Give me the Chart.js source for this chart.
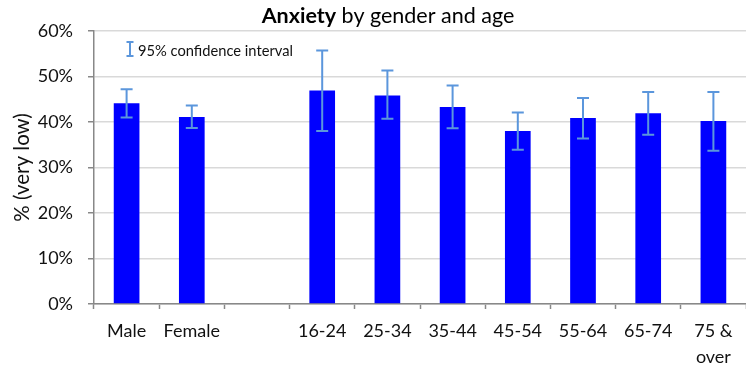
<!DOCTYPE html>
<html>
<head>
<meta charset="utf-8">
<script src="https://cdn.jsdelivr.net/npm/chart.js@4.4.1/dist/chart.umd.min.js"></script>
<style>
  html, body { margin: 0; padding: 0; background: #ffffff; }
  #wrap { width: 746px; height: 368px; }
</style>
</head>
<body>
<div id="wrap"><canvas id="chart" width="746" height="368"></canvas></div>
<script>
// Share of respondents with very low anxiety, by gender and by age band (%)
const categories = ['Male', 'Female', '', '16-24', '25-34', '35-44', '45-54', '55-64', '65-74', ['75 &', 'over']];
const values     = [44.1, 41.1, null, 46.9, 45.8, 43.3, 38.0, 40.9, 41.9, 40.2];
// 95% confidence interval bounds (%)
const ciLower    = [41.0, 38.7, null, 38.0, 40.7, 38.6, 33.9, 36.4, 37.2, 33.7];
const ciUpper    = [47.2, 43.6, null, 55.7, 51.3, 48.0, 42.1, 45.3, 46.6, 46.6];
const yTicks     = [0, 10, 20, 30, 40, 50, 60];

const FONT = 'Lato, "Open Sans", sans-serif';
const CI_COLOR = '#5B96DC';
const AXIS_COLOR = '#888888';
const GRID_COLOR = '#D9D9D9';

// Draws the confidence-interval whiskers on top of each bar
const errorBars = {
  id: 'errorBars',
  afterDatasetsDraw(chart) {
    const { ctx, scales: { x, y } } = chart;
    ctx.save();
    ctx.strokeStyle = CI_COLOR;
    ctx.lineWidth = 2;
    const cap = 6;
    values.forEach((v, i) => {
      if (v === null) return;
      const cx = x.getPixelForValue(i);
      const yTop = y.getPixelForValue(ciUpper[i]);
      const yBot = y.getPixelForValue(ciLower[i]);
      ctx.beginPath();
      ctx.moveTo(cx, yTop); ctx.lineTo(cx, yBot);
      ctx.moveTo(cx - cap, yTop); ctx.lineTo(cx + cap, yTop);
      ctx.moveTo(cx - cap, yBot); ctx.lineTo(cx + cap, yBot);
      ctx.stroke();
    });
    ctx.restore();
  }
};

// Title with a bold lead word, and the whisker key in the top-left corner
const decorations = {
  id: 'decorations',
  afterDraw(chart) {
    const { ctx, chartArea } = chart;
    ctx.save();
    // title
    const boldPart = 'Anxiety';
    const restPart = ' by gender and age';
    const titleSize = 21.5;
    ctx.textBaseline = 'alphabetic';
    ctx.fillStyle = '#000000';
    ctx.font = 'bold ' + titleSize + 'px ' + FONT;
    const wBold = ctx.measureText(boldPart).width;
    ctx.font = titleSize + 'px ' + FONT;
    const wRest = ctx.measureText(restPart).width;
    const startX = 388 - (wBold + wRest) / 2;
    ctx.font = 'bold ' + titleSize + 'px ' + FONT;
    ctx.fillText(boldPart, startX, 23);
    ctx.font = titleSize + 'px ' + FONT;
    ctx.fillText(restPart, startX + wBold, 23);

    // key
    const kx = chartArea.left + 36;
    const ky1 = chartArea.top + 11, ky2 = chartArea.top + 25;
    ctx.strokeStyle = CI_COLOR;
    ctx.lineWidth = 2;
    ctx.beginPath();
    ctx.moveTo(kx, ky1); ctx.lineTo(kx, ky2);
    ctx.moveTo(kx - 3.5, ky1); ctx.lineTo(kx + 3.5, ky1);
    ctx.moveTo(kx - 3.5, ky2); ctx.lineTo(kx + 3.5, ky2);
    ctx.stroke();
    ctx.font = '14.7px ' + FONT;
    ctx.textBaseline = 'middle';
    ctx.fillStyle = '#111111';
    ctx.fillText('95% confidence interval', kx + 8, chartArea.top + 20);
    ctx.restore();
  }
};

new Chart(document.getElementById('chart'), {
  type: 'bar',
  data: {
    labels: categories,
    datasets: [{
      data: values,
      backgroundColor: '#0000FF',
      borderWidth: 0,
      barPercentage: 0.394,
      categoryPercentage: 1.0
    }]
  },
  options: {
    responsive: false,
    animation: false,
    devicePixelRatio: 1,
    layout: { padding: { top: 31, right: 0, left: 0, bottom: 0 } },
    plugins: {
      legend: { display: false },
      title: { display: false },
      tooltip: { enabled: false }
    },
    scales: {
      x: {
        grid: {
          offset: true,
          drawOnChartArea: false,
          drawTicks: true,
          tickLength: 5,
          tickColor: AXIS_COLOR,
          tickWidth: 1.5
        },
        border: { color: AXIS_COLOR, width: 1.5 },
        ticks: {
          color: '#111111',
          font: { family: FONT, size: 18, lineHeight: 1.45 },
          padding: 9,
          maxRotation: 0,
          autoSkip: false
        },
        afterFit(scale) { scale.height = 64; }
      },
      y: {
        min: 0,
        max: 60,
        afterBuildTicks(scale) { scale.ticks = yTicks.map(v => ({ value: v })); },
        grid: {
          color: GRID_COLOR,
          lineWidth: 1.5,
          drawTicks: true,
          tickLength: 6,
          tickColor: AXIS_COLOR,
          tickWidth: 1.5
        },
        border: { color: AXIS_COLOR, width: 1.5 },
        ticks: {
          color: '#111111',
          font: { family: FONT, size: 18 },
          padding: 15,
          callback: v => v + '%'
        },
        title: {
          display: true,
          text: '% (very low)',
          color: '#111111',
          font: { family: FONT, size: 20.5 },
          padding: { top: 10, bottom: 0 }
        },
        afterFit(scale) { scale.width = 94; }
      }
    }
  },
  plugins: [errorBars, decorations]
});
</script>
</body>
</html>
